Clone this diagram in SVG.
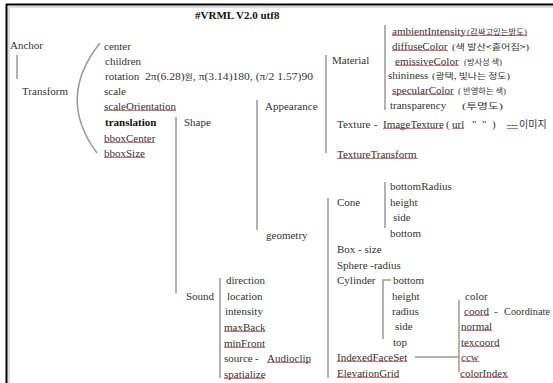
<svg xmlns="http://www.w3.org/2000/svg" width="553" height="383" viewBox="0 0 553 383">
<style>
.t{font-family:"Liberation Serif","Noto Sans CJK KR",serif;font-size:11px;fill:#333}
.b{font-weight:bold;fill:#111}
.k{font-family:"Liberation Serif","Noto Sans CJK KR",serif;font-size:9px;fill:#333}
.k tspan{font-family:"Noto Sans CJK KR",sans-serif;font-size:8.5px}
.ln{stroke:#999;stroke-width:1.5;fill:none}
.ul{stroke:#d04848;stroke-width:0.8;fill:none}
</style>
<rect x="0" y="0" width="553" height="383" fill="#fff"/>
<g id="frame">
<line x1="6.5" y1="4" x2="6.5" y2="383" stroke="#000" stroke-width="2"/>
<line x1="9" y1="7" x2="9" y2="383" stroke="#bbb" stroke-width="1"/>
<line x1="6" y1="4.5" x2="553" y2="4.5" stroke="#000" stroke-width="2"/>
<line x1="9" y1="7" x2="553" y2="7" stroke="#bbb" stroke-width="1"/>
</g>
<g id="connectors">
<line class="ln" x1="17" y1="55" x2="17" y2="79"/>
<path class="ln" d="M100,43 Q56,98 97,153" stroke-width="1.2"/>
<line class="ln" x1="176" y1="117" x2="176" y2="293"/>
<line class="ln" x1="257" y1="100" x2="257" y2="230"/>
<line class="ln" x1="326" y1="55" x2="326" y2="153"/>
<line class="ln" x1="385" y1="25" x2="385" y2="110"/>
<line class="ln" x1="328" y1="198" x2="328" y2="378"/>
<line class="ln" x1="385" y1="182" x2="385" y2="228"/>
<line class="ln" x1="220" y1="278" x2="220" y2="378"/>
<path class="ln" d="M391,280 H383 V339"/>
<path class="ln" d="M415,357 H459"/>
<line class="ln" x1="459" y1="300" x2="459" y2="372"/>
</g>
<g id="underlines">
<line class="ul" x1="104" y1="110.5" x2="176" y2="110.5"/>
<line class="ul" x1="104" y1="142.5" x2="155" y2="142.5"/>
<line class="ul" x1="104" y1="157.5" x2="145" y2="157.5"/>
<line class="ul" x1="392" y1="35.5" x2="527" y2="35.5"/>
<line class="ul" x1="392" y1="50.5" x2="448" y2="50.5"/>
<line class="ul" x1="395" y1="65.5" x2="459" y2="65.5"/>
<line class="ul" x1="392" y1="94.5" x2="454" y2="94.5"/>
<line class="ul" x1="383" y1="128.5" x2="443" y2="128.5"/>
<line class="ul" x1="452" y1="128.5" x2="464" y2="128.5" stroke="#555"/>
<line class="ul" x1="507" y1="128.5" x2="518" y2="128.5"/>
<line class="ul" x1="337" y1="158.5" x2="418" y2="158.5"/>
<line class="ul" x1="224" y1="331.5" x2="265" y2="331.5"/>
<line class="ul" x1="224" y1="347.5" x2="265" y2="347.5"/>
<line class="ul" x1="267" y1="362.5" x2="311" y2="362.5"/>
<line class="ul" x1="224" y1="378.5" x2="265" y2="378.5"/>
<line class="ul" x1="337" y1="361.5" x2="407" y2="361.5"/>
<line class="ul" x1="337" y1="377.5" x2="399" y2="377.5"/>
<line class="ul" x1="464" y1="315.5" x2="489" y2="315.5"/>
<line class="ul" x1="461" y1="330.5" x2="492" y2="330.5"/>
<line class="ul" x1="461" y1="346.5" x2="500" y2="346.5"/>
<line class="ul" x1="461" y1="361.5" x2="479" y2="361.5"/>
<line class="ul" x1="460" y1="377.5" x2="508" y2="377.5"/>
</g>
<g id="header"><text class="t b" x="195" y="19">#VRML V2.0 utf8</text></g>
<g id="anchor"><text class="t" x="10" y="49">Anchor</text></g>
<g id="transform"><text class="t" x="22" y="95">Transform</text></g>
<g id="transform-fields">
<text class="t" x="104" y="50">center</text>
<text class="t" x="105" y="65">children</text>
<text class="t" x="105" y="80">rotation</text>
<text class="k" x="145" y="80" textLength="168" lengthAdjust="spacingAndGlyphs" style="font-size:11px">2π(6.28)<tspan>원</tspan>, π(3.14)180, (π/2 1.57)90</text>
<text class="t" x="104" y="95">scale</text>
<text class="t" x="104" y="110">scaleOrientation</text>
<text class="t b" x="105" y="126">translation</text>
<text class="t" x="104" y="142">bboxCenter</text>
<text class="t" x="104" y="157">bboxSize</text>
</g>
<g id="shape"><text class="t" x="184" y="126">Shape</text></g>
<g id="appearance"><text class="t" x="265" y="110">Appearance</text></g>
<g id="material"><text class="t" x="332" y="64">Material</text></g>
<g id="material-fields">
<text class="t" x="392" y="35">ambientIntensity</text>
<text class="k" x="467" y="35" textLength="60" lengthAdjust="spacingAndGlyphs">(<tspan>감싸고있는밝도</tspan>)</text>
<text class="t" x="392" y="50">diffuseColor</text>
<text class="k" x="452" y="50" textLength="77" lengthAdjust="spacingAndGlyphs">(<tspan>색 발산&lt;흩어짐&gt;</tspan>)</text>
<text class="t" x="395" y="65">emissiveColor</text>
<text class="k" x="464" y="65" textLength="38" lengthAdjust="spacingAndGlyphs">(<tspan>방사성 색</tspan>)</text>
<text class="t" x="388" y="79">shininess</text>
<text class="k" x="432" y="79" textLength="78" lengthAdjust="spacingAndGlyphs">(<tspan>광택, 빛나는 정도</tspan>)</text>
<text class="t" x="392" y="94">specularColor</text>
<text class="k" x="458" y="94" textLength="48" lengthAdjust="spacingAndGlyphs">( <tspan>반영하는 색</tspan>)</text>
<text class="t" x="390" y="109">transparency</text>
<text class="k" x="462" y="109" textLength="41" lengthAdjust="spacingAndGlyphs">(<tspan>투명도</tspan>)</text>
</g>
<g id="texture"><text class="t" x="337" y="128">Texture<tspan x="374">-</tspan><tspan x="383">ImageTexture</tspan><tspan x="446">(</tspan><tspan x="452">url</tspan><tspan x="472">"</tspan><tspan x="482">"</tspan><tspan x="492">)</tspan><tspan x="507">---</tspan><tspan x="519" style="font-family:'Noto Sans CJK KR',sans-serif;font-size:10px">이미지</tspan></text></g>
<g id="texturetransform"><text class="t" x="337" y="158">TextureTransform</text></g>
<g id="geometry"><text class="t" x="266" y="239">geometry</text></g>
<g id="cone"><text class="t" x="337" y="206">Cone</text></g>
<g id="cone-fields">
<text class="t" x="390" y="190">bottomRadius</text>
<text class="t" x="390" y="206">height</text>
<text class="t" x="393" y="221">side</text>
<text class="t" x="390" y="237">bottom</text>
</g>
<g id="box"><text class="t" x="337" y="253">Box<tspan x="358">- size</tspan></text></g>
<g id="sphere"><text class="t" x="337" y="269">Sphere -radius</text></g>
<g id="cylinder"><text class="t" x="337" y="284">Cylinder</text></g>
<g id="cylinder-fields">
<text class="t" x="393" y="284">bottom</text>
<text class="t" x="392" y="300">height</text>
<text class="t" x="392" y="315">radius</text>
<text class="t" x="395" y="330">side</text>
<text class="t" x="393" y="346">top</text>
</g>
<g id="indexedfaceset"><text class="t" x="337" y="361">IndexedFaceSet</text></g>
<g id="elevationgrid"><text class="t" x="337" y="377">ElevationGrid</text></g>
<g id="ifs-fields">
<text class="t" x="465" y="300">color</text>
<text class="t" x="464" y="315">coord<tspan x="494">-</tspan><tspan x="504" textLength="46" lengthAdjust="spacingAndGlyphs">Coordinate</tspan></text>
<text class="t" x="461" y="330">normal</text>
<text class="t" x="461" y="346">texcoord</text>
<text class="t" x="461" y="361">ccw</text>
<text class="t" x="460" y="377">colorIndex</text>
</g>
<g id="sound"><text class="t" x="186" y="300">Sound</text></g>
<g id="sound-fields">
<text class="t" x="226" y="284">direction</text>
<text class="t" x="227" y="300">location</text>
<text class="t" x="225" y="315">intensity</text>
<text class="t" x="224" y="331">maxBack</text>
<text class="t" x="224" y="347">minFront</text>
<text class="t" x="224" y="362">source<tspan x="255">-</tspan><tspan x="267">Audioclip</tspan></text>
<text class="t" x="224" y="378">spatialize</text>
</g>
</svg>
